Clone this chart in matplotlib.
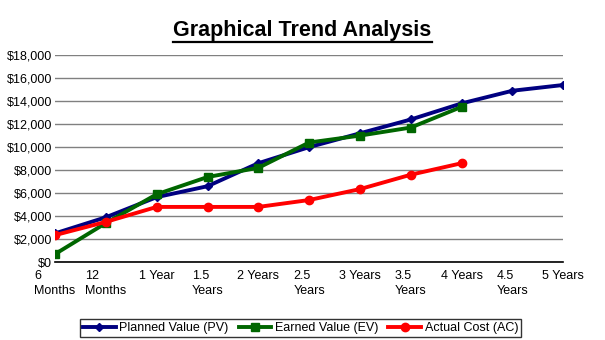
import matplotlib.pyplot as plt
from matplotlib.lines import Line2D

plt.rcParams['font.family'] = ['Liberation Sans', 'DejaVu Sans']

periodos = ['6\nMonths', '12\nMonths', '1 Year', '1.5\nYears', '2 Years', '2.5\nYears',
            '3 Years', '3.5\nYears', '4 Years', '4.5\nYears', '5 Years']
pv = [2500, 3900, 5650, 6600, 8600, 10000, 11200, 12400, 13800, 14900, 15400]
ev = [700, 3400, 5900, 7400, 8200, 10400, 11000, 11700, 13500]
ac = [2350, 3500, 4800, 4800, 4800, 5400, 6350, 7600, 8600]

fig = plt.figure(figsize=(6.05, 3.4), dpi=100)
ax = fig.add_axes([0.091, 0.229, 0.840, 0.609])

ax.plot(range(len(pv)), pv, color='#000080', marker='D', markersize=4, lw=2.8, label='Planned Value (PV)')
ax.plot(range(len(ev)), ev, color='#006600', marker='s', markersize=6, lw=2.8, label='Earned Value (EV)')
ax.plot(range(len(ac)), ac, color='#ff0000', marker='o', markersize=6, lw=2.8, label='Actual Cost (AC)')

ax.set_xlim(0, 10)
ax.set_ylim(0, 18000)
ax.set_yticks(range(0, 18001, 2000))
ax.set_yticklabels(['${:,}'.format(v) for v in range(0, 18001, 2000)], fontsize=9)
ax.set_xticks(range(len(periodos)))
ax.set_xticklabels(periodos, fontsize=9, multialignment='left', va='top', linespacing=1.35)
ax.tick_params(axis='both', length=0, pad=2)
ax.tick_params(axis='x', pad=5.5)
ax.grid(True, axis='y', color='#808080', lw=1)
ax.set_axisbelow(True)
for s in ['left', 'right', 'top']:
    ax.spines[s].set_visible(False)
ax.spines['bottom'].set_color('black')
ax.spines['bottom'].set_linewidth(1.2)

t = fig.text(0.5, 0.91, 'Graphical Trend Analysis', ha='center', va='center',
             fontsize=15.5, fontweight='bold')
fig.canvas.draw()
bb = t.get_window_extent().transformed(fig.transFigure.inverted())
fig.add_artist(Line2D([bb.x0, bb.x1], [bb.y0 - 0.004, bb.y0 - 0.004], color='black', lw=1.6,
                      transform=fig.transFigure))

leg = fig.legend(loc='center', bbox_to_anchor=(0.497, 0.035), ncol=3, fontsize=9,
                 frameon=True, fancybox=False, edgecolor='black', handlelength=2.6,
                 columnspacing=0.8, handletextpad=0.3, borderpad=0.25, borderaxespad=0)
leg.get_frame().set_linewidth(1)

plt.savefig('out.png')
